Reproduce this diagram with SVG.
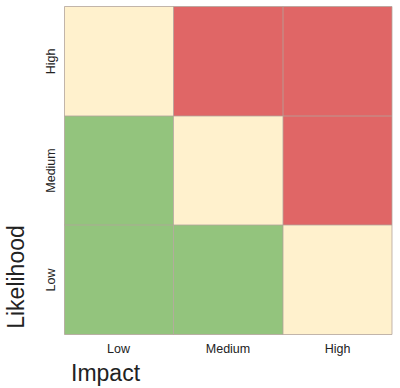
<svg xmlns="http://www.w3.org/2000/svg" width="400" height="388" viewBox="0 0 400 388">
<style>
.y{fill:#fff1cd}
.r{fill:#e06666}
.g{fill:#93c47d}
.ln{stroke:#b3a49b;stroke-width:1;fill:none;opacity:0.8}
.t{font-family:"Liberation Sans",Arial,sans-serif;fill:#222}
.s{font-size:12.5px}
.b{font-size:23px}
</style>
<rect width="400" height="388" fill="#fff"/>
<g id="cells">
<g id="c-high-low"><rect class="y" x="64.5" y="6.5" width="109" height="109.5"/></g>
<g id="c-high-med"><rect class="r" x="173.5" y="6.5" width="109.5" height="109.5"/></g>
<g id="c-high-high"><rect class="r" x="283" y="6.5" width="109" height="109.5"/></g>
<g id="c-med-low"><rect class="g" x="64.5" y="116" width="109" height="109"/></g>
<g id="c-med-med"><rect class="y" x="173.5" y="116" width="109.5" height="109"/></g>
<g id="c-med-high"><rect class="r" x="283" y="116" width="109" height="109"/></g>
<g id="c-low-low"><rect class="g" x="64.5" y="225" width="109" height="109.5"/></g>
<g id="c-low-med"><rect class="g" x="173.5" y="225" width="109.5" height="109.5"/></g>
<g id="c-low-high"><rect class="y" x="283" y="225" width="109" height="109.5"/></g>
</g>
<g id="connectors">
<path class="ln" d="M64.5 6.5H392V334.5H64.5Z M173.5 6.5V334.5 M283 6.5V334.5 M64.5 116H392 M64.5 225H392"/>
</g>
<g id="labels" class="t">
<text class="s" text-anchor="middle" transform="translate(55 61.5) rotate(-90)">High</text>
<text class="s" text-anchor="middle" transform="translate(55 170.5) rotate(-90)">Medium</text>
<text class="s" text-anchor="middle" transform="translate(55 280) rotate(-90)">Low</text>
<text class="s" text-anchor="middle" x="118.5" y="353">Low</text>
<text class="s" text-anchor="middle" x="228" y="353">Medium</text>
<text class="s" text-anchor="middle" x="337.5" y="353">High</text>
<text class="b" text-anchor="middle" transform="translate(24 277) rotate(-90)">Likelihood</text>
<text class="b" x="71" y="381">Impact</text>
</g>
</svg>
